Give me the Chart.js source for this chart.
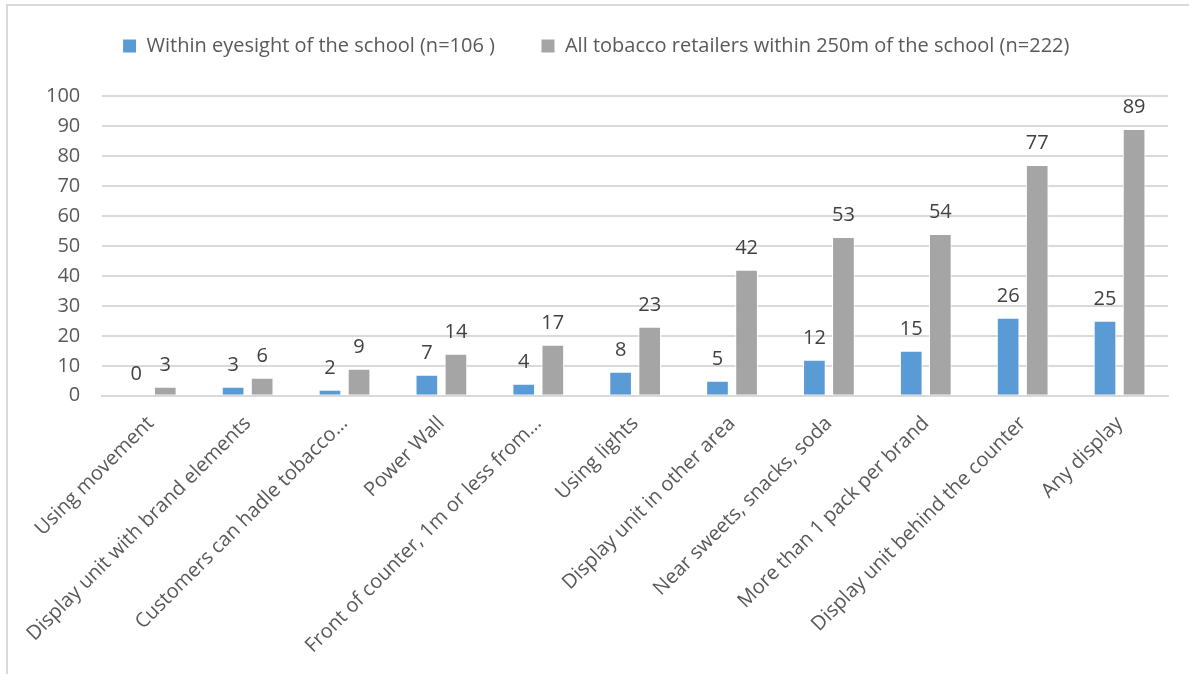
<!DOCTYPE html>
<html>
<head>
<meta charset="utf-8">
<script src="https://cdn.jsdelivr.net/npm/chart.js@4/dist/chart.umd.min.js"></script>
<style>
	html, body { margin: 0; padding: 0; background: white; overflow: hidden; }
	#frame {
		position: absolute; left: 6px; top: 4px;
		width: 1400px; height: 900px;
		border: 2px solid #d9d9d9;
	}
	#wrap { position: absolute; left: 0; top: -18px; width: 1189px; height: 692px; }
</style>
</head>
<body>
<div id="frame"></div>
<div id="wrap"><canvas id="myChart"></canvas></div>
<script>
Chart.defaults.color = '#595959';
Chart.defaults.font.family = 'Open Sans';


// DATA
// ================================================================
var categories = [
	'Using movement',
	'Display unit with brand elements',
	'Customers can hadle tobacco…',
	'Power Wall',
	'Front of counter, 1m or less from…',
	'Using lights',
	'Display unit in other area',
	'Near sweets, snacks, soda',
	'More than 1 pack per brand',
	'Display unit behind the counter',
	'Any display'
];
var eyesight = [0, 3, 2, 7, 4, 8, 5, 12, 15, 26, 25];
var allRetailers = [3, 6, 9, 14, 17, 23, 42, 53, 54, 77, 89];
var seriesNames = [
	'Within eyesight of the school (n=106 )',
	'All tobacco retailers within 250m of the school (n=222)'
];
var yTicks = [0, 10, 20, 30, 40, 50, 60, 70, 80, 90, 100];


// value labels above the bars
// ================================================================
var barLabels = {
	id: 'barLabels',
	afterDatasetsDraw: function (chart) {
		var ctx = chart.ctx;
		ctx.save();
		ctx.font = '20px "Open Sans"';
		ctx.fillStyle = '#404040';
		ctx.textAlign = 'center';
		ctx.textBaseline = 'alphabetic';
		chart.data.datasets.forEach(function (ds, i) {
			chart.getDatasetMeta(i).data.forEach(function (bar, j) {
				ctx.fillText(ds.data[j], bar.x, bar.y - 16);
			});
		});
		ctx.restore();
	}
};

// extra room under the legend
var legendGap = {
	id: 'legendGap',
	beforeInit: function (chart) {
		var fit = chart.legend.fit;
		chart.legend.fit = function () {
			fit.bind(chart.legend)();
			this.height += 30;
		};
	}
};


var ctx = document.getElementById('myChart').getContext('2d');
var Render = new Chart(ctx, {
	type: 'bar',
	data: {
		labels: categories,
		datasets: [
			{
				label: seriesNames[0],
				data: eyesight,
				backgroundColor: '#5b9bd5',
				borderColor: '#ffffff',
				borderWidth: 1,
				categoryPercentage: 0.6,
				barPercentage: 0.78
			},
			{
				label: seriesNames[1],
				data: allRetailers,
				backgroundColor: '#a5a5a5',
				borderColor: '#ffffff',
				borderWidth: 1,
				categoryPercentage: 0.6,
				barPercentage: 0.78
			}
		]
	},
	options: {
		responsive: true,
		maintainAspectRatio: false,
		animation: false,
		layout: {
			padding: { left: 24, right: 21, top: 8, bottom: 8 }
		},
		plugins: {
			legend: {
				position: 'top',
				labels: {
					boxWidth: 14,
					boxHeight: 14,
					padding: 46,
					font: { size: 20 },
					color: '#595959'
				}
			},
			tooltip: { enabled: false }
		},
		scales: {
			x: {
				grid: { display: false },
				border: { color: '#d9d9d9', width: 2 },
				ticks: {
					maxRotation: 45,
					minRotation: 45,
					autoSkip: false,
					padding: 8,
					font: { size: 20 },
					color: '#595959'
				}
			},
			y: {
				min: 0,
				max: 100,
				afterBuildTicks: function (axis) {
					axis.ticks = yTicks.map(function (v) { return { value: v }; });
				},
				grid: { color: '#d9d9d9', lineWidth: 2, drawTicks: false },
				border: { display: false },
				ticks: {
					padding: 22,
					font: { size: 20 },
					color: '#595959'
				}
			}
		}
	},
	plugins: [barLabels, legendGap]
});
</script>
</body>
</html>
